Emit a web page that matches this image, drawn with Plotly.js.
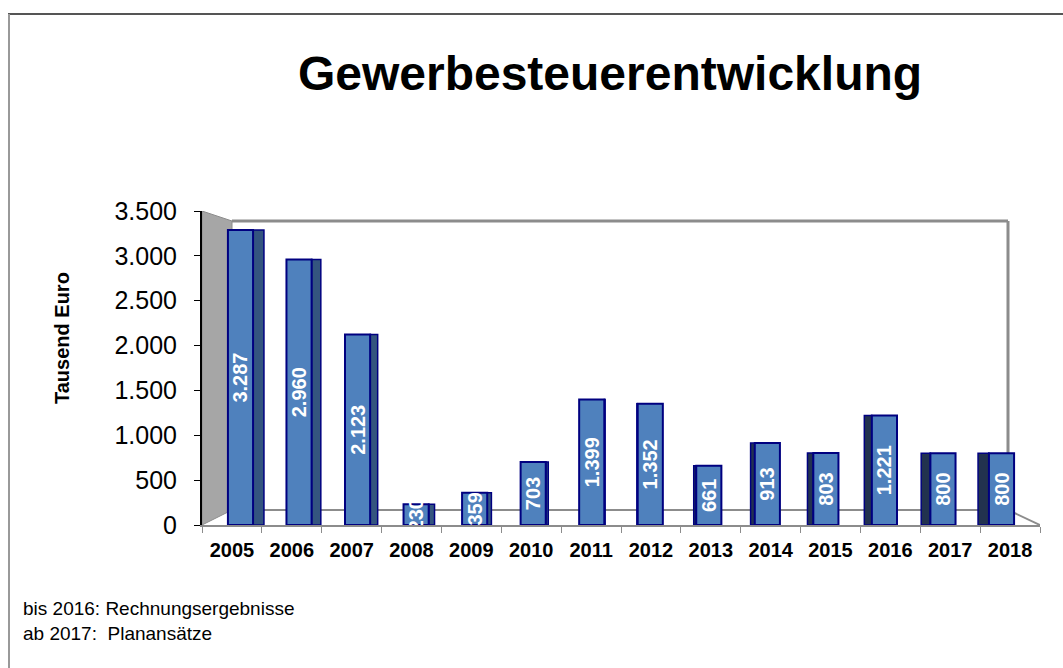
<!DOCTYPE html>
<html>
<head>
<meta charset="utf-8">
<script src="https://cdn.plot.ly/plotly-3.0.1.min.js"></script>
<style>html,body{margin:0;padding:0;background:#fff;}#chart{width:1063px;height:668px;}</style>
</head>
<body>
<div id="chart"></div>
<script>
// ---- data ----
const years = ["2005","2006","2007","2008","2009","2010","2011","2012","2013","2014","2015","2016","2017","2018"];
const values = [3287, 2960, 2123, 230, 359, 703, 1399, 1352, 661, 913, 803, 1221, 800, 800];
const chartTitle = "Gewerbesteuerentwicklung";
const yTitle = "Tausend Euro";
const note1 = "bis 2016: Rechnungsergebnisse";
const note2 = "ab 2017:  Planansätze";

// ---- layout geometry (pixels of the 1063x668 canvas) ----
const L = 202, R = 1040, T = 211, B = 525;
const W = 1063, H = 668;
const px = x => (x - L) / (R - L);      // pixel x -> paper x
const py = y => (B - y) / (B - T);      // pixel y -> paper y

// pseudo-3D: front face shift and side face width depend on distance from centre
const centre = (years.length - 1) / 2;
const frontW = 0.42;
const frontOff = years.map((_, i) => -frontW / 2 + (centre - i) * 0.022);
const sideW = years.map((_, i) => Math.abs(i - centre) * 0.028);
const sideOff = years.map((_, i) => i < centre ? frontOff[i] + frontW : frontOff[i] - sideW[i]);
const sideCol = years.map((_, i) => i < centre ? "#34557F" : "#22324F");

const side = {
  type: "bar", x: years, y: values, width: sideW, offset: sideOff,
  marker: { color: sideCol, line: { color: "#000080", width: 1.5 } },
  hoverinfo: "skip", showlegend: false
};
const front = {
  type: "bar", x: years, y: values, width: frontW, offset: frontOff,
  marker: { color: "#4F81BD", line: { color: "#000080", width: 2 } },
  texttemplate: "%{y:,d}", textposition: "inside", insidetextanchor: "middle",
  textangle: -90, constraintext: "none", cliponaxis: true,
  textfont: { family: "Liberation Sans, Arial, sans-serif", size: 20, color: "#ffffff", weight: "bold" },
  showlegend: false
};

// wall / floor of the 3D box in data coords
const n = years.length;
const xb = (x) => -0.5 + (x - L) / ((R - L) / n);
const yv = (y) => (B - y) / (B - T) * 3500;
const xBackL = xb(232), xBackR = xb(1008);
const yTopBack = yv(221), yFloorBack = yv(510);

const shapes = [
  // left wall
  { type: "path", xref: "x", yref: "y", layer: "below",
    path: `M ${-0.5} 3500 L ${xBackL} ${yTopBack} L ${xBackL} ${yFloorBack} L ${-0.5} 0 Z`,
    fillcolor: "#A6A6A6", line: { color: "#8C8C8C", width: 1 } },
  // back wall top edge
  { type: "line", xref: "x", yref: "y", layer: "below", x0: xBackL, x1: xBackR, y0: yTopBack, y1: yTopBack,
    line: { color: "#8C8C8C", width: 3 } },
  // right edge of back wall
  { type: "line", xref: "x", yref: "y", layer: "below", x0: xBackR, x1: xBackR, y0: yTopBack, y1: yFloorBack,
    line: { color: "#8C8C8C", width: 3 } },
  // floor back edge
  { type: "line", xref: "x", yref: "y", layer: "below", x0: xBackL, x1: xBackR, y0: yFloorBack, y1: yFloorBack,
    line: { color: "#8C8C8C", width: 2 } },
  // floor right edge
  { type: "line", xref: "x", yref: "y", layer: "below", x0: xBackR, x1: n - 0.5, y0: yFloorBack, y1: 0,
    line: { color: "#8C8C8C", width: 2 } },
  // outer frame
  { type: "line", xref: "paper", yref: "paper", x0: px(8), x1: px(W + 5), y0: py(14), y1: py(14),
    line: { color: "#555555", width: 2 } },
  { type: "line", xref: "paper", yref: "paper", x0: px(9), x1: px(9), y0: py(14), y1: py(H + 5),
    line: { color: "#999999", width: 2 } }
];

const annotations = [
  { text: `<b>${yTitle}</b>`, xref: "paper", yref: "paper", x: px(62), y: py(338), textangle: -90,
    xanchor: "center", yanchor: "middle",
    showarrow: false, font: { family: "Liberation Sans, Arial, sans-serif", size: 20, color: "#000" } },
  { text: note1, xref: "paper", yref: "paper", x: px(21), y: py(608), xanchor: "left", yanchor: "middle",
    showarrow: false, font: { family: "Liberation Sans, Arial, sans-serif", size: 19, color: "#000" } },
  { text: note2, xref: "paper", yref: "paper", x: px(21), y: py(633), xanchor: "left", yanchor: "middle",
    showarrow: false, font: { family: "Liberation Sans, Arial, sans-serif", size: 19, color: "#000" } }
];

const layout = {
  width: W, height: H,
  margin: { l: L, r: W - R, t: T, b: H - B, pad: 0 },
  paper_bgcolor: "#ffffff", plot_bgcolor: "rgba(0,0,0,0)",
  separators: ",.",
  barmode: "overlay",
  title: { text: `<b>${chartTitle}</b>`, x: 610 / W, xanchor: "center", xref: "container",
    y: 1 - 73 / H, yanchor: "middle", yref: "container",
    font: { family: "Liberation Sans, Arial, sans-serif", size: 48, color: "#000" } },
  xaxis: {
    type: "category", range: [-0.5, n - 0.5], fixedrange: true,
    showline: true, linecolor: "#8C8C8C", linewidth: 2,
    ticks: "outside", tickson: "boundaries", ticklen: 6, tickcolor: "#8C8C8C",
    ticklabelstandoff: 6,
    showgrid: false, zeroline: false,
    tickfont: { family: "Liberation Sans, Arial, sans-serif", size: 20, color: "#000", weight: "bold" }
  },
  yaxis: {
    range: [0, 3500], dtick: 500, tickformat: ",d", fixedrange: true,
    showline: true, linecolor: "#000000", linewidth: 2,
    ticks: "outside", ticklen: 6, tickcolor: "#000",
    ticklabelstandoff: 12,
    showgrid: false, zeroline: false,
    tickfont: { family: "Liberation Sans, Arial, sans-serif", size: 25, color: "#000" }
  },
  shapes: shapes,
  annotations: annotations
};

Plotly.newPlot("chart", [side, front], layout, { displayModeBar: false, staticPlot: true });
</script>
</body>
</html>
